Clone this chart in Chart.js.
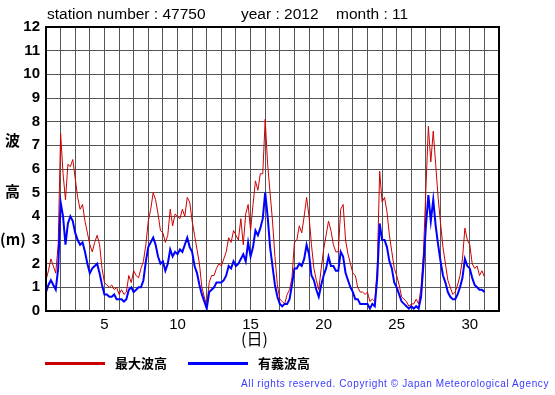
<!DOCTYPE html>
<html>
<head>
<meta charset="utf-8">
<script src="https://cdn.jsdelivr.net/npm/chart.js@4/dist/chart.umd.min.js"></script>
<style>
  html, body { margin:0; padding:0; background:#fff; }
  #wrap { position:relative; width:555px; height:395px; overflow:hidden; }
  canvas { position:absolute; left:0; top:0; }
  .t { position:absolute; white-space:nowrap; color:#000; }
  .title { font-family:"Liberation Sans", Arial, sans-serif; font-size:15.5px; top:5px; }
  .ylab { font-family:"Noto Sans CJK JP", sans-serif; font-weight:bold; font-size:15px; }
  .leg { font-family:"Noto Sans CJK JP", sans-serif; font-weight:bold; font-size:13px; top:353px; }
  .legline { position:absolute; height:3px; top:362px; width:60px; }
  .copy { font-family:"Liberation Sans", Arial, sans-serif; font-size:10px; letter-spacing:0.6px; color:#3a3aff; top:378px; right:6px; }
</style>
</head>
<body>
<div id="wrap">
  <canvas id="c" width="555" height="395"></canvas>
  <div class="t title" style="left:47px;">station number : 47750</div>
  <div class="t title" style="left:241px;">year : 2012</div>
  <div class="t title" style="left:336px;">month : 11</div>
  <div class="t ylab" style="left:5px; top:129px;">波</div>
  <div class="t ylab" style="left:5px; top:180px;">高</div>
  <div class="t ylab" style="left:0px; top:228px;">(m)</div>
  <div class="t" style="left:241px; top:326px; font-family:'Noto Sans CJK JP', sans-serif; font-size:16px;">(日)</div>
  <div class="legline" style="left:45px; background:#cc0000;"></div>
  <div class="t leg" style="left:115px;">最大波高</div>
  <div class="legline" style="left:188px; background:#0000ff;"></div>
  <div class="t leg" style="left:258px;">有義波高</div>
  <div class="t copy">All rights reserved. Copyright © Japan Meteorological Agency</div>
</div>
<script>
// 4-hourly readings (6 per day), from day 1 00h to day 31 00h
const STEPS_PER_DAY = 6;
const maxWave = [
  1.3, 1.7, 2.2, 1.9, 1.6, 2.8,
  7.5, 5.8, 4.7, 6.2, 6.1, 6.4,
  5.6, 4.8, 4.3, 4.5, 3.8, 3.3,
  2.8, 2.5, 2.9, 3.2, 2.8, 1.8,
  1.2, 1.1, 1.0, 1.1, 0.9, 1.0,
  0.7, 0.9, 0.7, 0.8, 1.5, 1.2,
  1.7, 1.5, 1.4, 1.8, 2.1, 2.8,
  3.8, 4.3, 5.0, 4.7, 4.1, 3.4,
  3.3, 2.9, 3.2, 4.3, 3.6, 4.1,
  4.0, 3.9, 4.3, 4.0, 4.8, 4.6,
  3.8, 3.2, 2.6, 2.0, 1.0, 0.6,
  0.2, 1.2, 1.5, 1.5, 1.8, 2.0,
  1.9, 2.2, 2.5, 3.1, 2.9, 3.4,
  3.2, 3.0, 3.9, 2.8, 4.1, 4.5,
  3.4, 4.5, 5.5, 5.1, 5.8, 5.8,
  8.1, 6.2, 5.0, 3.8, 2.3, 1.1,
  0.5, 0.4, 0.3, 0.7, 0.9, 1.4,
  2.9, 3.0, 3.6, 3.3, 4.0, 4.8,
  4.0, 2.8, 1.8, 1.3, 0.9, 1.8,
  2.6, 3.2, 3.8, 3.4, 2.8, 2.5,
  2.5, 4.3, 4.5, 3.0, 2.4, 2.0,
  1.6, 1.5, 1.0, 0.8, 0.8, 0.7,
  0.8, 0.4, 0.5, 0.4, 1.8, 5.9,
  4.6, 4.8, 4.2, 3.2, 2.5, 1.8,
  1.5, 1.1, 0.6, 0.5, 0.4, 0.2,
  0.3, 0.3, 0.5, 0.3, 1.0, 2.5,
  5.2, 7.8, 6.3, 7.6, 6.2, 4.8,
  3.7, 2.7, 2.0, 1.3, 1.0, 0.7,
  0.8, 1.1, 1.5, 2.2, 3.5, 3.0,
  2.8, 2.0, 1.8, 1.9, 1.5, 1.7,
  1.45
];
const sigWave = [
  0.8, 1.1, 1.3, 1.1, 0.9, 1.8,
  4.6, 4.0, 2.8, 3.7, 4.0, 3.8,
  3.3, 3.0, 2.8, 2.9, 2.5, 2.0,
  1.6, 1.8, 1.9, 2.0, 1.6, 1.1,
  0.7, 0.7, 0.6, 0.6, 0.7, 0.5,
  0.5, 0.5, 0.4, 0.5, 0.9, 1.0,
  0.8, 0.9, 1.0, 1.0, 1.3, 2.1,
  2.7, 2.9, 3.1, 2.8, 2.3, 2.0,
  2.1, 1.7, 2.0, 2.6, 2.3, 2.5,
  2.4, 2.6, 2.5, 2.8, 3.1, 2.7,
  2.5, 1.9, 1.6, 1.1, 0.7, 0.4,
  0.1, 0.8, 0.9, 1.0, 1.2, 1.2,
  1.2, 1.3, 1.5, 1.9, 1.8, 2.1,
  1.9, 2.0, 2.2, 2.4, 2.1, 2.9,
  2.3, 2.7, 3.4, 3.2, 3.5, 3.9,
  5.0, 4.0, 2.7, 1.9, 1.1, 0.6,
  0.3, 0.2, 0.3, 0.3, 0.5, 1.1,
  1.8, 1.8, 2.0, 1.9, 2.2, 2.8,
  2.4, 1.5, 1.3, 0.9, 0.6, 1.1,
  1.5, 1.8, 2.3, 1.9, 1.9, 1.7,
  1.7, 2.5, 2.3, 1.6, 1.3, 1.0,
  0.8, 0.5, 0.5, 0.3, 0.3, 0.3,
  0.3, 0.1, 0.3, 0.2, 1.4, 3.7,
  3.0, 3.0, 2.7, 2.1, 1.8, 1.2,
  1.0, 0.7, 0.4, 0.3, 0.2, 0.1,
  0.2, 0.1, 0.2, 0.1, 0.6, 2.0,
  3.6, 4.9, 3.8, 4.7, 3.6, 2.8,
  2.1, 1.5, 1.2, 0.8, 0.6, 0.5,
  0.5, 0.7, 1.0, 1.4, 2.2, 1.9,
  1.8, 1.4, 1.1, 1.0, 0.9, 0.9,
  0.8
];
const xLabels = [5, 10, 15, 20, 25, 30];
const yTicks = [0,1,2,3,4,5,6,7,8,9,10,11,12];

const toPts = arr => arr.map((v, i) => ({ x: 1 + i / STEPS_PER_DAY, y: v }));

const framePlugin = {
  id: 'frame',
  afterDraw(chart) {
    const a = chart.chartArea, ctx = chart.ctx;
    ctx.save();
    ctx.strokeStyle = '#000';
    ctx.lineWidth = 2;
    ctx.strokeRect(a.left, a.top, a.right - a.left, a.bottom - a.top);
    ctx.restore();
  }
};

new Chart(document.getElementById('c'), {
  type: 'line',
  data: {
    datasets: [
      { label: '有義波高', data: toPts(sigWave), borderColor: '#0000ff', borderWidth: 2, pointRadius: 0, tension: 0 },
      { label: '最大波高', data: toPts(maxWave), borderColor: '#cc0000', borderWidth: 1, pointRadius: 0, tension: 0 }
    ]
  },
  options: {
    responsive: false,
    devicePixelRatio: 1,
    animation: false,
    events: [],
    layout: { padding: { top: 27, right: 56, left: 0, bottom: 0 } },
    plugins: { legend: { display: false }, title: { display: false }, tooltip: { enabled: false } },
    scales: {
      x: {
        type: 'linear', min: 1, max: 32,
        ticks: {
          stepSize: 1, autoSkip: false, maxRotation: 0, color: '#000', padding: 5,
          font: { family: 'Liberation Sans, Arial, sans-serif', size: 15 },
          callback: v => xLabels.includes(v) ? String(v) : ''
        },
        grid: { color: '#555', lineWidth: 1, drawTicks: false },
        border: { display: false },
        afterFit(s) { s.height = 84; }
      },
      y: {
        min: 0, max: 12,
        afterBuildTicks(s) { s.ticks = yTicks.map(v => ({ value: v })); },
        ticks: {
          color: '#000', padding: 6,
          font: { family: 'Liberation Sans, Arial, sans-serif', size: 15, weight: 'bold' }
        },
        grid: { color: '#555', lineWidth: 1, drawTicks: false },
        border: { display: false },
        afterFit(s) { s.width = 46; }
      }
    }
  },
  plugins: [framePlugin]
});
</script>
</body>
</html>
